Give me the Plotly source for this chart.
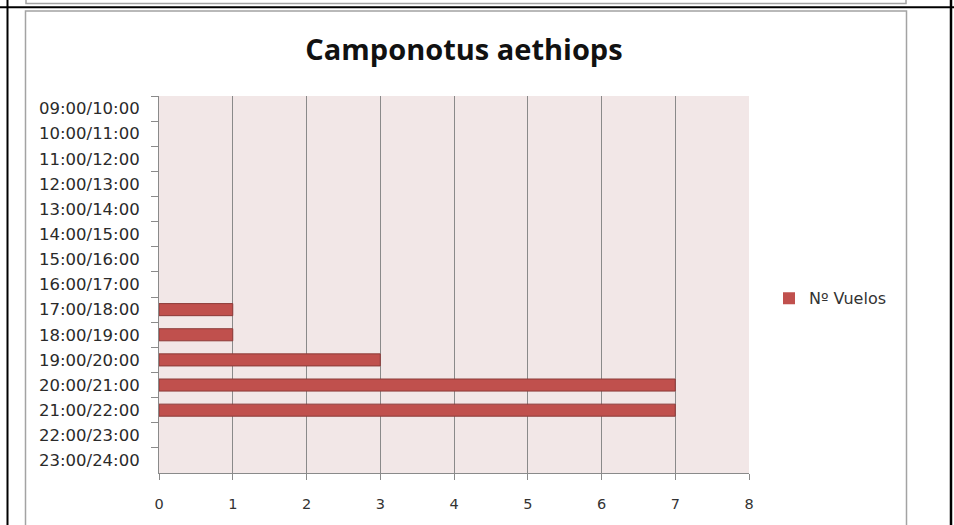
import plotly.graph_objects as go

# ---- data ----
categories = ["09:00/10:00", "10:00/11:00", "11:00/12:00", "12:00/13:00", "13:00/14:00",
              "14:00/15:00", "15:00/16:00", "16:00/17:00", "17:00/18:00", "18:00/19:00",
              "19:00/20:00", "20:00/21:00", "21:00/22:00", "22:00/23:00", "23:00/24:00"]
vuelos = [0, 0, 0, 0, 0, 0, 0, 0, 1, 1, 3, 7, 7, 0, 0]
x_ticks = [0, 1, 2, 3, 4, 5, 6, 7, 8]
series_name = "Nº Vuelos"
title_text = "Camponotus aethiops"

W, H = 954, 525
L, R, T, B = 159, 749, 95.5, 473  # plot area in pixels


def px(x):
    return (x - L) / (R - L)


def py(y):
    return (B - y) / (B - T)


fig = go.Figure()
fig.add_trace(go.Bar(
    y=categories, x=vuelos, orientation="h", name=series_name,
    marker=dict(color="#C0504D",
                line=dict(color="#8C3A38", width=[1 if v > 0 else 0 for v in vuelos])),
    showlegend=True,
))

grey = "#A3A3A3"
shapes = []
# chart frame
shapes.append(dict(type="rect", xref="paper", yref="paper",
                   x0=px(25.5), x1=px(906.5), y0=py(10.5), y1=py(540),
                   line=dict(color=grey, width=1.5), fillcolor="rgba(0,0,0,0)", layer="below"))
# previous chart frame bottom edge
shapes.append(dict(type="rect", xref="paper", yref="paper",
                   x0=px(26), x1=px(906), y0=py(3), y1=py(-20),
                   line=dict(color=grey, width=1.5), fillcolor="rgba(0,0,0,0)", layer="below"))
# black table lines
shapes.append(dict(type="line", xref="paper", yref="paper",
                   x0=px(-5), x1=px(960), y0=py(6.7), y1=py(6.7),
                   line=dict(color="black", width=2)))
shapes.append(dict(type="line", xref="paper", yref="paper",
                   x0=px(7.5), x1=px(7.5), y0=py(-5), y1=py(530),
                   line=dict(color="black", width=2)))
shapes.append(dict(type="line", xref="paper", yref="paper",
                   x0=px(951), x1=px(951), y0=py(-5), y1=py(530),
                   line=dict(color="black", width=2.5)))

fig.update_layout(
    width=W, height=H,
    margin=dict(l=L, r=W - R, t=T, b=H - B, autoexpand=False),
    paper_bgcolor="white",
    plot_bgcolor="#F2E7E7",
    bargap=0.52,
    title=dict(text=title_text, x=464 / W, xref="container", xanchor="center",
               y=1 - 50 / H, yref="container", yanchor="middle",
               font=dict(family="Open Sans", size=29, color="#111111", weight="bold")),
    font=dict(family="DejaVu Sans", color="#222222"),
    legend=dict(x=px(769), xanchor="left", y=py(298), yanchor="middle",
                font=dict(family="DejaVu Sans", size=16, color="#333333"),
                itemwidth=30, bgcolor="rgba(0,0,0,0)"),
    shapes=shapes,
)
fig.update_xaxes(
    range=[0, 8], tickvals=x_ticks, ticktext=[str(v) for v in x_ticks],
    showgrid=True, gridcolor="#8A8A8A", gridwidth=1,
    showline=True, linecolor="#8A8A8A", linewidth=1,
    ticks="outside", ticklen=6, tickcolor="#8A8A8A",
    tickfont=dict(family="DejaVu Sans", size=14.5, color="#333333"),
    ticklabelstandoff=12,
    zeroline=False, fixedrange=True,
)
fig.update_yaxes(
    categoryorder="array", categoryarray=categories, autorange="reversed",
    tickson="boundaries", ticks="outside", ticklen=7, tickcolor="#8A8A8A",
    showline=True, linecolor="#8A8A8A", linewidth=1, showgrid=False,
    tickfont=dict(family="DejaVu Sans", size=16.5, color="#2A2A2A"),
    ticklabelstandoff=15, fixedrange=True,
)

fig.write_html("out.html", config={"displayModeBar": False},
               post_script="document.body.style.margin='0';")
